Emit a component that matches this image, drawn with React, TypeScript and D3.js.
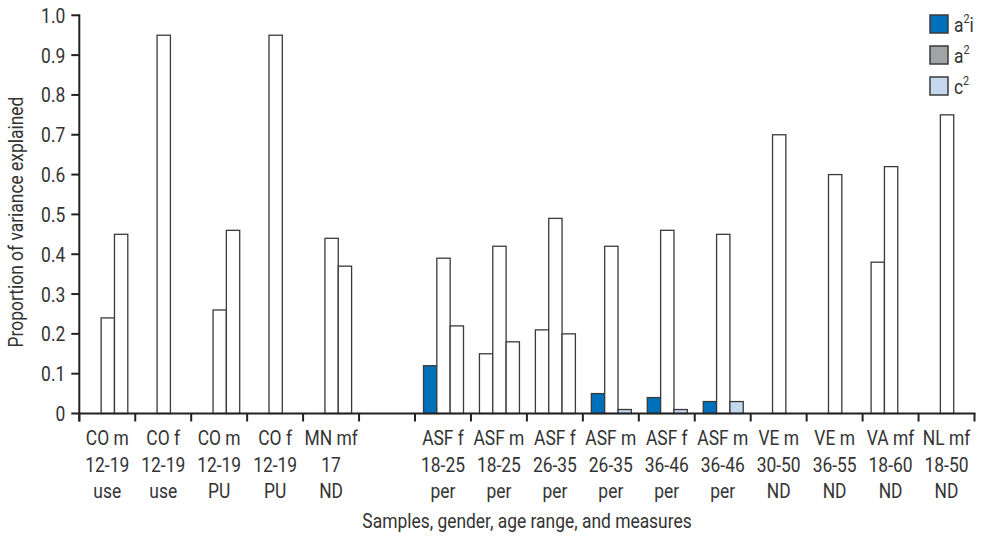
import React from 'react';
import * as d3 from 'd3';

// groups along the x axis (index 5 is the empty slot between the two blocks)
const sampleLabels = ['CO m', 'CO f', 'CO m', 'CO f', 'MN mf', '', 'ASF f', 'ASF m', 'ASF f', 'ASF m', 'ASF f', 'ASF m', 'VE m', 'VE m', 'VA mf', 'NL mf'];
const ageLabels = ['12-19', '12-19', '12-19', '12-19', '17', '', '18-25', '18-25', '26-35', '26-35', '36-46', '36-46', '30-50', '36-55', '18-60', '18-50'];
const measureLabels = ['use', 'use', 'PU', 'PU', 'ND', '', 'per', 'per', 'per', 'per', 'per', 'per', 'ND', 'ND', 'ND', 'ND'];

const a2iValues = [0, 0, 0, 0, 0, 0, 0.12, 0.15, 0.21, 0.05, 0.04, 0.03, 0, 0, 0.38, 0];
const a2Values = [0.24, 0.95, 0.26, 0.95, 0.44, 0, 0.39, 0.42, 0.49, 0.42, 0.46, 0.45, 0.70, 0.60, 0.62, 0.75];
const c2Values = [0.45, 0, 0.46, 0, 0.37, 0, 0.22, 0.18, 0.20, 0.01, 0.01, 0.03, 0, 0, 0, 0];

// which bars are drawn in the series colour (the rest are white in the source)
const a2iShaded = [false, false, false, false, false, false, true, false, false, true, true, true, false, false, false, false];
const c2Shaded = [false, false, false, false, false, false, false, false, false, true, true, true, false, false, false, false];

const yTicks = [0, 0.1, 0.2, 0.3, 0.4, 0.5, 0.6, 0.7, 0.8, 0.9, 1.0];

const FONT = "Roboto, 'Liberation Sans', sans-serif";
const TEXT = '#333';
const SX = 0.83; // squeeze to get the condensed look of the source font

function T(props: { x: number; y: number; anchor?: string; size?: number; rotate?: number; children: React.ReactNode }) {
  const { x, y, anchor = 'middle', size = 21, rotate = 0, children } = props;
  return (
    <g transform={`translate(${x},${y}) rotate(${rotate}) scale(${SX},1)`}>
      <text textAnchor={anchor} fontSize={size} fill={TEXT}>
        {children}
      </text>
    </g>
  );
}

export default function App() {
  const width = 981;
  const height = 538;
  const left = 79.3;
  const right = 974.5;
  const top = 15.3;
  const bottom = 413.5;

  const keys = sampleLabels.map((_, i) => 'g' + i);
  const x0 = d3.scaleBand().domain(keys).range([left, right]).padding(0);
  const x1 = d3.scaleBand().domain(['a2i', 'a2', 'c2']).range([8.5, 48.5]).padding(0);
  const y = d3.scaleLinear().domain([0, 1]).range([bottom, top]);

  const series = [
    { key: 'a2i', values: a2iValues, shaded: a2iShaded, color: '#0070bb' },
    { key: 'a2', values: a2Values, shaded: a2Values.map(() => false), color: '#a2a3a5' },
    { key: 'c2', values: c2Values, shaded: c2Shaded, color: '#c6d8ee' },
  ];

  const legend = [
    { color: '#0070bb', base: 'a', sup: '2', tail: 'i' },
    { color: '#a2a3a5', base: 'a', sup: '2', tail: '' },
    { color: '#c6d8ee', base: 'c', sup: '2', tail: '' },
  ];

  const tickXs = keys.map((k) => x0(k) as number).concat([right]);
  const fmt = (v: number) => (v === 0 ? '0' : d3.format('.1f')(v));

  return (
    <div style={{ position: 'absolute', left: 0, top: 0 }}>
      <svg width={width} height={height} style={{ display: 'block', background: '#fff' }} fontFamily={FONT}>
        {/* bars */}
        {keys.map((k, gi) => (
          <g key={k} transform={`translate(${x0(k)},0)`}>
            {series.map((s) =>
              s.values[gi] > 0 ? (
                <rect
                  key={s.key}
                  x={x1(s.key)}
                  y={y(s.values[gi])}
                  width={x1.bandwidth()}
                  height={bottom - y(s.values[gi])}
                  fill={s.shaded[gi] ? s.color : '#fff'}
                  stroke="#3a3a3a"
                  strokeWidth={1.3}
                />
              ) : null
            )}
          </g>
        ))}

        {/* y axis */}
        <line x1={left} x2={left} y1={top - 1} y2={bottom + 8} stroke="#222" strokeWidth={2} />
        {yTicks.map((t) => (
          <g key={t}>
            <line x1={left - 8} x2={left} y1={y(t)} y2={y(t)} stroke="#222" strokeWidth={2} />
            <T x={left - 14} y={y(t) + 7.5} anchor="end">
              {fmt(t)}
            </T>
          </g>
        ))}
        <T x={23} y={222} rotate={-90}>
          Proportion of variance explained
        </T>

        {/* x axis */}
        <line x1={left - 1} x2={right + 1} y1={bottom} y2={bottom} stroke="#222" strokeWidth={2} />
        {tickXs.map((tx, i) => (
          <line key={i} x1={tx} x2={tx} y1={bottom} y2={bottom + 8} stroke="#222" strokeWidth={2} />
        ))}
        {keys.map((k, gi) => {
          const cx = (x0(k) as number) + x0.bandwidth() / 2;
          return (
            <g key={k}>
              <T x={cx} y={445}>{sampleLabels[gi]}</T>
              <T x={cx} y={471.5}>{ageLabels[gi]}</T>
              <T x={cx} y={498}>{measureLabels[gi]}</T>
            </g>
          );
        })}
        <T x={527} y={528}>
          Samples, gender, age range, and measures
        </T>

        {/* legend */}
        {legend.map((l, i) => (
          <g key={i} transform={`translate(930,${15 + i * 31})`}>
            <rect x={0} y={0} width={18} height={18} fill={l.color} stroke="#3a3a3a" strokeWidth={1.5} />
            <T x={24} y={17} anchor="start">
              {l.base}
              <tspan fontSize={13} dy={-9}>{l.sup}</tspan>
              {l.tail ? <tspan dy={9}>{l.tail}</tspan> : null}
            </T>
          </g>
        ))}
      </svg>
    </div>
  );
}
